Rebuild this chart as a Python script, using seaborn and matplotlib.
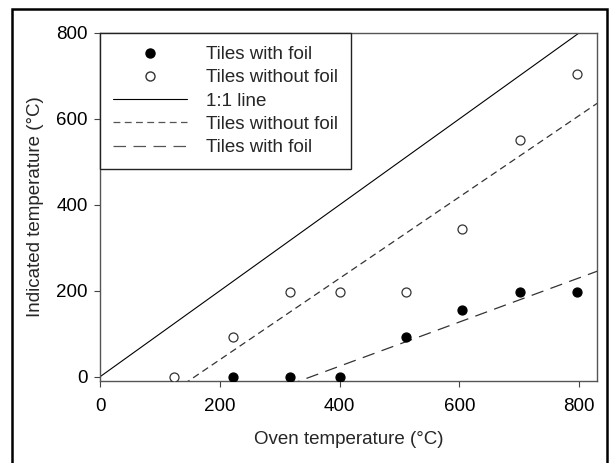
import matplotlib
matplotlib.use("Agg")
import matplotlib.pyplot as plt
import seaborn as sns
from matplotlib.lines import Line2D
from matplotlib.patches import Rectangle


# data
oven_no_foil = [124, 222, 317, 400, 511, 605, 701, 797]
temp_no_foil = [0, 93, 198, 198, 198, 343, 550, 704]
oven_foil = [222, 317, 400, 511, 605, 701, 797]
temp_foil = [0, 0, 0, 92, 156, 198, 198]
# foil regression only uses the points that left zero
fit_start = 2
one_to_one = [0, 900]

x_ticks = [0, 200, 400, 600, 800]
y_ticks = [0, 200, 400, 600, 800]

sns.set_style("ticks")
plt.rcParams['font.family'] = ['Liberation Sans', 'DejaVu Sans']
fs = 13.5

fig = plt.figure(figsize=(6.1, 4.63), dpi=100)
ax = fig.add_axes([0.164, 0.177, 0.815, 0.752])
ax.set_xlim(0, 830)
ax.set_ylim(-10, 800)

line_col = '#333333'
sns.lineplot(x=one_to_one, y=one_to_one, ax=ax, color='black', lw=0.8)
sns.regplot(x=oven_no_foil, y=temp_no_foil, ax=ax, scatter=False, ci=None,
            truncate=False,
            line_kws=dict(color=line_col, lw=0.9, dashes=(5.5, 3.5)))
sns.regplot(x=oven_foil[fit_start:], y=temp_foil[fit_start:], ax=ax,
            scatter=False, ci=None, truncate=False,
            line_kws=dict(color=line_col, lw=0.9, dashes=(10, 6)))

sns.scatterplot(x=oven_no_foil, y=temp_no_foil, ax=ax, s=42, color='white',
                edgecolor='#333333', linewidth=0.9, zorder=5)
sns.scatterplot(x=oven_foil, y=temp_foil, ax=ax, s=42, color='black',
                edgecolor='black', linewidth=0.9, zorder=5)

ax.set_xlim(0, 830)
ax.set_ylim(-10, 800)
ax.set_xticks(x_ticks)
ax.set_yticks(y_ticks)
ax.tick_params(labelsize=fs, length=4, width=0.8, colors='#444444',
               labelcolor='black')
ax.tick_params(axis='x', pad=8)
ax.tick_params(axis='y', pad=5)
for sp in ax.spines.values():
    sp.set_color('#555555')
    sp.set_linewidth(1.0)

ax.set_xlabel('Oven temperature (°C)', fontsize=fs, labelpad=12)
ax.set_ylabel('Indicated temperature (°C)', fontsize=fs, labelpad=9)

handles = [
    Line2D([], [], ls='none', marker='o', ms=6.5, mfc='black', mec='black'),
    Line2D([], [], ls='none', marker='o', ms=6.5, mfc='white', mec='#333333'),
    Line2D([], [], color='black', lw=0.8),
    Line2D([], [], color='#555555', lw=0.9, dashes=(5.5, 3.5)),
    Line2D([], [], color='#555555', lw=0.9, dashes=(10, 6)),
]
labels = ['Tiles with foil', 'Tiles without foil', '1:1 line',
          'Tiles without foil', 'Tiles with foil']
leg = ax.legend(handles, labels, loc='upper left', borderaxespad=0,
                fontsize=fs, handlelength=3.95, handletextpad=1.0,
                labelspacing=0.33, borderpad=0.7, fancybox=False,
                framealpha=1)
leg.get_frame().set_edgecolor('#222222')
leg.get_frame().set_linewidth(1.0)

# frame round the whole figure
fig.patches.append(Rectangle((12 / 610, -0.05), (607 - 12) / 610, 1.03,
                             transform=fig.transFigure, fill=False,
                             lw=1.8, ec='black'))

fig.savefig('out.png', dpi=100)
